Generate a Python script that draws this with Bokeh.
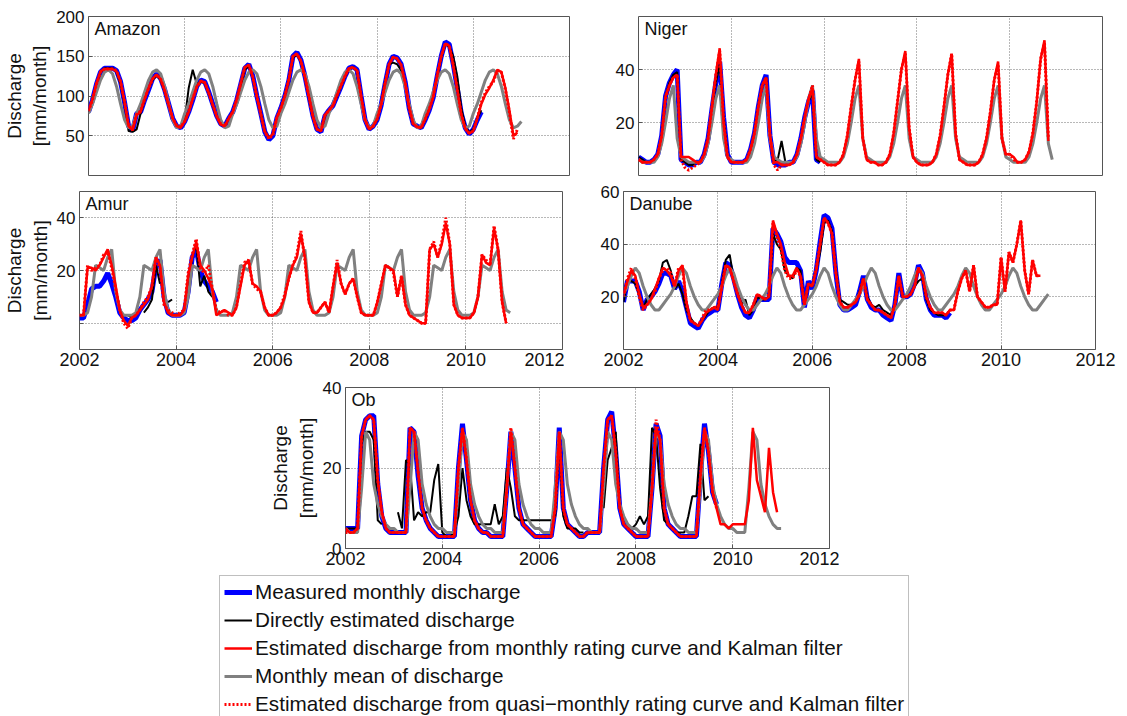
import numpy as np
from bokeh.plotting import figure
from bokeh.models import FixedTicker, Grid, Label, Legend, LegendItem, Range1d, Spacer
from bokeh.layouts import column, row
from bokeh.embed import file_html
from bokeh.resources import INLINE

FONT = "Liberation Sans"
YEAR0 = 2002
x_ticks = [2002, 2004, 2006, 2008, 2010, 2012]
x_grid = [2004, 2006, 2008, 2010]
ylabel = "Discharge\n[mm/month]"

legend_keys = ["measured", "direct", "kalman", "mean", "quasi"]
legend_labels = [
    "Measured monthly discharge",
    "Directly estimated discharge",
    "Estimated discharge from monthly rating curve and Kalman filter",
    "Monthly mean of discharge",
    "Estimated discharge from quasi\u2212monthly rating curve and Kalman filter",
]

# ---------------- Amazon (monthly values from Jan 2002) ----------------
amazon_measured = [
    80, 95, 115, 130, 135, 135, 135, 132, 118, 92, 62, 56,
    78, 80, 95, 108, 122, 128, 122, 108, 90, 72, 62, 60,
    68, 80, 95, 112, 120, 118, 105, 90, 75, 65, 62, 72,
    80, 95, 115, 135, 140, 125, 100, 78, 55, 45, 50, 72,
    85, 100, 120, 150, 155, 145, 125, 100, 75, 58, 55, 75,
    82, 88, 100, 112, 125, 135, 137, 133, 100, 70, 58, 62,
    70, 88, 115, 140, 150, 148, 140, 118, 85, 65, 62, 60,
    70, 82, 98, 125, 150, 168, 165, 140, 110, 78, 60, 52,
    58, 70, 80]
amazon_direct = [
    80, 95, 115, 130, 135, 135, 135, 130, 115, 90, 56, 55,
    58, 78, 95, 110, 120, 126, 120, 106, 88, 70, 62, 62,
    70, 110, 133, 115, 118, 116, 104, 88, 74, 64, 62, 72,
    80, 95, 112, 133, 138, 124, 100, 78, 56, 47, 52, 72,
    85, 100, 122, 148, 152, 143, 124, 98, 74, 58, 56, 75,
    82, 88, 100, 112, 124, 134, 136, 132, 100, 70, 58, 62,
    70, 90, 118, 140, 142, 140, 132, 115, 85, 65, 62, 60,
    70, 84, 100, 125, 148, 165, 162, 150, 125, 85, 62, 54,
    58, 72, 82]
amazon_kalman = [
    82, 96, 116, 131, 134, 134, 134, 131, 118, 92, 62, 57,
    76, 80, 96, 110, 122, 127, 121, 107, 89, 72, 62, 60,
    68, 80, 96, 112, 119, 117, 104, 89, 74, 64, 62, 72,
    80, 96, 116, 136, 139, 124, 100, 77, 55, 47, 52, 73,
    85, 100, 121, 150, 153, 144, 124, 99, 74, 58, 56, 76,
    82, 88, 101, 113, 125, 135, 136, 132, 100, 70, 58, 62,
    71, 89, 116, 140, 149, 147, 139, 117, 85, 65, 61, 60,
    71, 83, 99, 126, 150, 166, 163, 139, 108, 77, 59, 53,
    56, 72, 90, 102, 110, 120, 133, 130, 110, 82, 50, 54]
amazon_mean = [
    78, 90, 105, 120, 130, 133, 128, 112, 90, 70, 60, 62,
    78, 90, 105, 120, 130, 133, 128, 112, 90, 70, 60, 62,
    78, 90, 105, 120, 130, 133, 128, 112, 90, 70, 60, 62,
    78, 90, 105, 120, 130, 133, 128, 112, 90, 70, 60, 62,
    78, 90, 105, 120, 130, 133, 128, 112, 90, 70, 60, 62,
    78, 90, 105, 120, 130, 133, 128, 112, 90, 70, 60, 62,
    78, 90, 105, 120, 130, 133, 128, 112, 90, 70, 60, 62,
    78, 90, 105, 120, 130, 133, 128, 112, 90, 70, 60, 62,
    78, 90, 105, 120, 130, 133, 128, 112, 90, 70, 60, 62,
    68]
amazon_quasi = [
    81, 95, 115, 130, 134, 134, 134, 132, 118, 93, 63, 57,
    77, 81, 96, 110, 121, 127, 121, 107, 89, 72, 63, 61,
    68, 81, 96, 111, 119, 117, 104, 89, 75, 65, 62, 72,
    80, 96, 116, 136, 139, 124, 99, 77, 55, 46, 51, 73,
    85, 100, 121, 150, 153, 144, 124, 99, 74, 58, 56, 76,
    82, 88, 101, 113, 125, 135, 136, 132, 100, 70, 58, 62,
    71, 89, 116, 140, 149, 147, 139, 117, 85, 65, 61, 60,
    71, 83, 99, 126, 150, 166, 163, 139, 108, 77, 59, 53,
    56, 72, 92, 104, 112, 118, 132, 130, 108, 80, 46, 58]

# ---------------- Niger ----------------
niger_measured = [
    7, 6, 5, 5, 6, 8, 15, 30, 35, 38, 40, 6,
    5, 4, 4, 5, 5, 8, 14, 25, 35, 43, 22, 8,
    5, 5, 5, 5, 6, 10, 16, 26, 34, 38, 15, 5,
    4, 4, 4, 5, 5, 8, 14, 22, 28, 32, 6, 5]
niger_direct = [
    7, 6, 5, 5, 6, 8, 15, 30, 35, 38, 39, 6,
    5, 4, 4, 5, 5, 8, 14, 25, 35, 42, 22, 8,
    5, 5, 5, 5, 6, 10, 16, 26, 34, 37, 15, 5,
    6, 13, 5, 5, 5, 8, 14, 22, 28, 31, 6, 5]
niger_kalman = [
    6, 5, 5, 5, 6, 8, 15, 30, 34, 37, 38, 7,
    7, 7, 6, 5, 5, 8, 14, 26, 38, 48, 20, 7,
    5, 5, 5, 5, 6, 10, 16, 26, 34, 37, 15, 5,
    5, 4, 4, 4, 5, 8, 14, 22, 29, 33, 7, 6,
    5, 4, 4, 4, 5, 8, 15, 26, 36, 44, 14, 6,
    5, 5, 4, 4, 5, 8, 16, 28, 40, 47, 18, 7,
    5, 4, 4, 4, 5, 8, 15, 26, 38, 46, 16, 6,
    5, 4, 4, 4, 5, 8, 14, 24, 36, 43, 14, 8,
    8, 7, 5, 5, 6, 9, 16, 28, 44, 51, 13]
niger_mean = [
    6, 5, 5, 5, 5, 7, 12, 20, 29, 34, 14, 7,
    6, 5, 5, 5, 5, 7, 12, 20, 29, 34, 14, 7,
    6, 5, 5, 5, 5, 7, 12, 20, 29, 34, 14, 7,
    6, 5, 5, 5, 5, 7, 12, 20, 29, 34, 14, 7,
    6, 5, 5, 5, 5, 7, 12, 20, 29, 34, 14, 7,
    6, 5, 5, 5, 5, 7, 12, 20, 29, 34, 14, 7,
    6, 5, 5, 5, 5, 7, 12, 20, 29, 34, 14, 7,
    6, 5, 5, 5, 5, 7, 12, 20, 29, 34, 14, 7,
    6, 5, 5, 5, 5, 7, 12, 20, 29, 34, 12, 6]
niger_quasi = [
    6, 5, 5, 5, 6, 8, 15, 29, 34, 37, 38, 6,
    3, 2, 3, 4, 5, 8, 14, 26, 38, 47, 21, 7,
    5, 5, 5, 5, 6, 10, 16, 26, 34, 37, 15, 4,
    2, 4, 4, 4, 5, 8, 14, 22, 29, 34, 7, 6,
    5, 4, 4, 4, 5, 8, 15, 26, 36, 43, 14, 6,
    5, 5, 4, 4, 5, 8, 16, 28, 40, 46, 18, 7,
    5, 4, 4, 4, 5, 8, 15, 26, 38, 46, 16, 6,
    5, 4, 4, 4, 5, 8, 14, 24, 36, 42, 14, 8,
    8, 6, 5, 5, 6, 9, 16, 28, 44, 50, 14]

# ---------------- Amur ----------------
amur_measured = [
    2, 2, 7, 13, 14, 14, 16, 19, 15, 10, 4, 2,
    1, 1, 2, 5, 7, 9, 12, 22, 24, 10, 4, 3,
    3, 3, 4, 12, 25, 28, 20, 16, 14, 12, 8]
amur_direct = [
    None, None, None, None, None, None, None, None, None, None, None, None,
    3, 2, None, None, 4, 6, 9, 22, 15, None, 8, 9,
    None, None, None, 14, 25, 30, 14, 18, 12, 10]
amur_kalman = [
    3, 3, 21, 21, 20, 22, 25, 28, 22, 14, 5, 1,
    -1, 2, 3, 5, 7, 9, 14, 25, 22, 8, 4, 3,
    3, 3, 5, 18, 25, 31, 22, 20, 17, 13, 3, 4,
    5, 4, 3, 6, 14, 22, 24, 15, 14, 12, 6, 3,
    3, 4, 6, 10, 17, 22, 25, 34, 25, 8, 4, 4,
    6, 8, 4, 14, 23, 15, 11, 15, 17, 10, 4, 3,
    3, 3, 8, 15, 22, 21, 20, 10, 18, 7, 3, 2,
    1, 0, 0, 28, 30, 25, 30, 38, 30, 7, 3, 2,
    2, 2, 4, 10, 26, 23, 22, 36, 28, 8, 0]
amur_mean = [
    3, 3, 4, 10, 22, 21, 20, 25, 28, 12, 5, 3,
    3, 3, 4, 10, 22, 21, 20, 25, 28, 12, 5, 3,
    3, 3, 4, 10, 22, 21, 20, 25, 28, 12, 5, 3,
    3, 3, 4, 10, 22, 21, 20, 25, 28, 12, 5, 3,
    3, 3, 4, 10, 22, 21, 20, 25, 28, 12, 5, 3,
    3, 3, 4, 10, 22, 21, 20, 25, 28, 12, 5, 3,
    3, 3, 4, 10, 22, 21, 20, 25, 28, 12, 5, 3,
    3, 3, 4, 10, 22, 21, 20, 25, 28, 12, 5, 3,
    3, 3, 4, 10, 22, 21, 20, 25, 28, 12, 5, 4]
amur_quasi = [
    3, 3, 22, 20, 21, 22, 26, 27, 21, 13, 5, 0,
    -2, 2, 3, 5, 8, 10, 14, 25, 21, 7, 5, 4,
    3, 4, 5, 19, 26, 32, 21, 19, 22, 13, 5, 4,
    5, 3, 3, 6, 15, 23, 24, 15, 13, 12, 6, 3,
    3, 4, 6, 11, 17, 22, 26, 35, 24, 8, 4, 4,
    6, 8, 4, 14, 24, 15, 11, 15, 17, 10, 4, 3,
    3, 3, 8, 15, 22, 21, 19, 10, 18, 7, 3, 2,
    1, 0, 0, 28, 31, 25, 31, 40, 30, 7, 3, 2,
    2, 2, 4, 10, 26, 24, 22, 37, 28, 8, 0]

# ---------------- Danube ----------------
danube_measured = [
    18, 26, 26, 26, 22, 15, 19, 20, 22, 25, 29, 29,
    28, 23, 26, 22, 16, 10, 9, 8, 11, 13, 14, 15,
    15, 25, 33, 32, 27, 21, 16, 13, 12, 15, 20, 19,
    19, 19, 46, 44, 41, 35, 33, 33, 33, 30, 16, 26,
    23, 30, 41, 51, 50, 46, 29, 17, 15, 15, 16, 17,
    22, 28, 19, 16, 15, 15, 13, 12, 11, 17, 29, 20,
    20, 21, 25, 32, 29, 19, 15, 13, 13, 13, 12, 14]
danube_direct = [
    18, 26, 26, 25, 21, 16, 19, 21, 23, 26, 33, 34,
    30, 23, 25, 21, 15, 12, 10, 9, 11, 13, 15, 16,
    16, 25, 34, 36, 27, 22, 17, 19, 13, 15, 20, 19,
    19, 20, 44, 40, 38, 30, 28, 27, 31, 30, 17, 25,
    24, 30, 37, 48, 49, 45, 30, 19, 18, 17, 17, 18,
    22, 27, 20, 17, 16, 17, 15, 14, 13, 17, 28, 20,
    20, 21, 24, 26, 27, 19, 15, 14, 13, 13, 13, 15]
danube_kalman = [
    21, 26, 30, 28, 21, 16, 17, 19, 23, 27, 31, 30,
    28, 24, 30, 32, 18, 11, 10, 9, 11, 14, 15, 16,
    15, 24, 32, 31, 26, 21, 17, 14, 14, 17, 21, 20,
    19, 20, 49, 44, 40, 33, 28, 28, 31, 28, 17, 25,
    24, 30, 40, 50, 48, 44, 29, 18, 16, 16, 17, 18,
    21, 27, 19, 17, 15, 15, 14, 13, 12, 17, 28, 20,
    20, 21, 24, 31, 28, 20, 16, 14, 14, 14, 13, 15,
    15, 22, 27, 30, 22, 32, 20, 18, 16, 16, 17, 17,
    35, 22, 37, 33, 40, 49, 30, 21, 34, 28, 28]
danube_mean = [
    21, 24, 28, 31, 29, 24, 20, 17, 15, 15, 17, 19,
    21, 24, 28, 31, 29, 24, 20, 17, 15, 15, 17, 19,
    21, 24, 28, 31, 29, 24, 20, 17, 15, 15, 17, 19,
    21, 24, 28, 31, 29, 24, 20, 17, 15, 15, 17, 19,
    21, 24, 28, 31, 29, 24, 20, 17, 15, 15, 17, 19,
    21, 24, 28, 31, 29, 24, 20, 17, 15, 15, 17, 19,
    21, 24, 28, 31, 29, 24, 20, 17, 15, 15, 17, 19,
    21, 24, 28, 31, 29, 24, 20, 17, 15, 15, 17, 19,
    21, 24, 28, 31, 29, 24, 20, 17, 15, 15, 17, 19,
    21]
danube_quasi = [
    20, 27, 31, 27, 20, 15, 17, 19, 22, 27, 30, 31,
    29, 24, 31, 31, 17, 11, 10, 9, 12, 15, 15, 16,
    16, 24, 32, 31, 26, 21, 17, 14, 14, 17, 21, 20,
    19, 21, 48, 43, 38, 30, 27, 27, 30, 28, 17, 25,
    24, 31, 40, 50, 48, 44, 29, 18, 16, 16, 17, 18,
    21, 27, 19, 17, 15, 15, 14, 13, 12, 17, 28, 20,
    20, 21, 24, 31, 28, 20, 16, 14, 14, 14, 13, 15,
    15, 22, 27, 30, 22, 32, 20, 18, 16, 16, 17, 17,
    35, 22, 37, 33, 40, 49, 30, 21, 34, 28, 28]

# ---------------- Ob ----------------
ob_measured = [
    5, 5, 5, 5, 28, 32, 33, 33, 16, 8, 5, 4,
    4, 4, 4, 4, 30, 29, 18, 10, 7, 5, 4, 3,
    3, 3, 3, 3, 20, 31, 22, 12, 7, 5, 4, 4,
    3, 3, 3, 3, 15, 29, 20, 10, 6, 5, 4, 3,
    3, 3, 3, 3, 10, 30, 10, 6, 5, 4, 3, 3,
    4, 4, 4, 4, 20, 32, 34, 24, 10, 6, 5, 4,
    3, 3, 3, 3, 15, 31, 28, 10, 6, 5, 4, 3,
    3, 3, 3, 3, 18, 31, 24, 14, 11]
ob_direct = [
    5, 5, 5, 5, 26, 29, 29, 27, 7, 6, None, None,
    None, 9, 5, 22, 21, 7, 9, 8, 9, 9, 17, 21,
    4, 3, 3, 4, 8, 20, 12, 8, 6, 6, 6, 6,
    6, 11, 6, 8, 20, 15, 8, 7, 7, 7, 7, 7,
    7, 7, 7, 7, 8, 28, 8, 5, 5, 5, 4, 4,
    None, None, None, None, 10, 22, 25, 29, 10, 6, 5, 5,
    6, 8, 6, 8, 30, 28, 15, 7, 6, 5, 4, 4,
    4, 8, 13, 13, 26, 12, 13]
ob_kalman = [
    5, 4, 4, 5, 28, 32, 33, 32, 17, 9, 5, 4,
    4, 4, 4, 4, 30, 29, 19, 10, 7, 5, 4, 3,
    3, 3, 3, 3, 20, 30, 22, 12, 7, 5, 4, 4,
    3, 3, 3, 3, 15, 29, 20, 10, 6, 5, 4, 3,
    3, 3, 3, 3, 10, 29, 10, 6, 5, 4, 3, 3,
    4, 4, 4, 4, 20, 32, 33, 24, 10, 6, 5, 4,
    3, 3, 3, 3, 15, 30, 27, 10, 6, 5, 4, 3,
    3, 3, 3, 3, 18, 30, 24, 14, 10, 6, 6, 5,
    6, 6, 6, 6, 12, 30, 17, 13, 9, 25, 14, 9]
ob_mean = [
    5, 4, 4, 4, 15, 29, 27, 16, 11, 8, 6, 5,
    5, 4, 4, 4, 15, 29, 27, 16, 11, 8, 6, 5,
    5, 4, 4, 4, 15, 29, 27, 16, 11, 8, 6, 5,
    5, 4, 4, 4, 15, 29, 27, 16, 11, 8, 6, 5,
    5, 4, 4, 4, 15, 29, 27, 16, 11, 8, 6, 5,
    5, 4, 4, 4, 15, 29, 27, 16, 11, 8, 6, 5,
    5, 4, 4, 4, 15, 29, 27, 16, 11, 8, 6, 5,
    5, 4, 4, 4, 15, 29, 27, 16, 11, 8, 6, 5,
    5, 4, 4, 4, 15, 29, 27, 16, 11, 8, 6, 5,
    5]
ob_quasi = [
    4, 4, 4, 5, 28, 32, 33, 32, 17, 9, 5, 4,
    4, 4, 4, 4, 30, 29, 19, 10, 7, 5, 4, 3,
    3, 3, 3, 3, 20, 30, 22, 12, 7, 5, 4, 4,
    3, 3, 3, 3, 15, 30, 20, 10, 6, 5, 4, 3,
    3, 3, 3, 3, 10, 29, 10, 6, 5, 4, 3, 3,
    4, 4, 4, 4, 20, 32, 33, 24, 10, 6, 5, 4,
    3, 3, 3, 3, 15, 32, 27, 10, 6, 5, 4, 3,
    3, 3, 3, 3, 18, 30, 24, 14, 10]

STYLES = {
    "measured": dict(line_color="#0000ff", line_width=5),
    "direct": dict(line_color="#000000", line_width=2),
    "mean": dict(line_color="#808080", line_width=3),
    "kalman": dict(line_color="#ff0000", line_width=2.5),
    "quasi": dict(line_color="#ff0000", line_width=3, line_dash="2 2"),
}
ORDER = ["measured", "direct", "mean", "kalman", "quasi"]


def arr(values):
    return np.array([np.nan if v is None else v for v in values], dtype=float)


def months(values):
    return YEAR0 + np.arange(len(values)) / 12.0


def panel(name, series, yrange, yticks, frame, borders, show_x, label_y, hide=()):
    fw, fh = frame
    bl, br, bt, bb = borders
    p = figure(width=bl + fw + br, height=bt + fh + bb,
               min_border_left=bl, min_border_right=br,
               min_border_top=bt, min_border_bottom=bb,
               x_range=Range1d(2002, 2012), y_range=Range1d(*yrange),
               x_axis_location="below" if show_x else None,
               output_backend="svg", toolbar_location=None, title=None, tools="")
    p.background_fill_color = "white"
    p.border_fill_color = "white"
    p.outline_line_color = "#555555"
    p.outline_line_width = 1
    p.grid.visible = False
    p.add_layout(Grid(dimension=0, ticker=FixedTicker(ticks=x_grid),
                      grid_line_color="#404040", grid_line_dash="1 2",
                      grid_line_alpha=0.75))
    p.add_layout(Grid(dimension=1, ticker=FixedTicker(ticks=list(yticks)),
                      grid_line_color="#404040", grid_line_dash="1 2",
                      grid_line_alpha=0.75))
    ya = p.yaxis[0]
    ya.ticker = FixedTicker(ticks=list(yticks))
    ya.major_label_overrides = {t: "" for t in hide}
    ya.axis_line_color = None
    ya.major_tick_in = 4
    ya.major_tick_out = 0
    ya.major_tick_line_color = "#555555"
    ya.minor_tick_line_color = None
    ya.major_label_standoff = 4
    ya.major_label_text_font = FONT
    ya.major_label_text_font_size = "17px"
    ya.major_label_text_color = "#111111"
    if label_y:
        ya.axis_label = ylabel
        ya.axis_label_text_font = FONT
        ya.axis_label_text_font_size = "19px"
        ya.axis_label_text_font_style = "normal"
        ya.axis_label_text_color = "#111111"
        ya.axis_label_standoff = 3
    if show_x:
        xa = p.xaxis[0]
        xa.ticker = FixedTicker(ticks=x_ticks)
        xa.axis_line_color = None
        xa.major_tick_in = 4
        xa.major_tick_out = 0
        xa.major_tick_line_color = "#555555"
        xa.minor_tick_line_color = None
        xa.major_label_standoff = 3
        xa.major_label_text_font = FONT
        xa.major_label_text_font_size = "18px"
        xa.major_label_text_color = "#111111"
    for key in ORDER:
        vals = series.get(key)
        if vals is None:
            continue
        p.line(months(vals), arr(vals), **STYLES[key])
    p.add_layout(Label(x=2002, y=yrange[1], x_offset=6, y_offset=-2, text=name,
                       text_font=FONT, text_font_size="18px", text_color="#111111",
                       text_baseline="top"))
    return p


# same top/bottom borders and frame height within a row
amazon = panel("Amazon", dict(measured=amazon_measured, direct=amazon_direct, mean=amazon_mean,
                              kalman=amazon_kalman, quasi=amazon_quasi),
               (0, 200), [50, 100, 150, 200], (482, 159), (87, 2, 16, 6), False, True)
niger = panel("Niger", dict(measured=niger_measured, direct=niger_direct, mean=niger_mean,
                            kalman=niger_kalman, quasi=niger_quasi),
              (0, 60), [20, 40], (464, 159), (67, 25, 16, 6), False, False)
amur = panel("Amur", dict(measured=amur_measured, direct=amur_direct, mean=amur_mean,
                          kalman=amur_kalman, quasi=amur_quasi),
             (-10, 50), [0, 20, 40], (483, 158), (79, 2, 10, 31), True, True, hide=(0,))
danube = panel("Danube", dict(measured=danube_measured, direct=danube_direct, mean=danube_mean,
                              kalman=danube_kalman, quasi=danube_quasi),
               (0, 60), [20, 40, 60], (472, 158), (59, 32, 10, 31), True, False)
ob = panel("Ob", dict(measured=ob_measured, direct=ob_direct, mean=ob_mean,
                      kalman=ob_kalman, quasi=ob_quasi),
           (0, 40), [0, 20, 40], (484, 161), (79, 10, 7, 27), True, True)

# ---------------- legend ----------------
leg = figure(width=1127, height=141, min_border_left=0, min_border_right=0,
             min_border_top=0, min_border_bottom=0,
             x_range=Range1d(0, 1), y_range=Range1d(0, 1),
             x_axis_location=None, y_axis_location=None,
             output_backend="svg", toolbar_location=None, title=None, tools="")
leg.grid.visible = False
leg.outline_line_color = None
leg.background_fill_color = "white"
leg.border_fill_color = "white"
items = []
for key, text in zip(legend_keys, legend_labels):
    r = leg.line(x=[-5, -4], y=[-5, -5], **STYLES[key])
    items.append(LegendItem(label=text, renderers=[r]))
legend = Legend(items=items, location=(219, -5), margin=0, padding=4, spacing=4,
                glyph_width=28, glyph_height=24, label_height=24, label_standoff=3,
                label_text_font=FONT, label_text_font_size="20.7px",
                label_text_color="#111111", label_text_baseline="middle",
                border_line_color="#808080", border_line_width=1,
                background_fill_color="white", background_fill_alpha=1.0)
leg.add_layout(legend)

layout = column(row(amazon, niger), row(amur, danube),
                row(Spacer(width=266, height=195), ob), leg)

with open("out.html", "w") as f:
    f.write(file_html(layout, INLINE))
